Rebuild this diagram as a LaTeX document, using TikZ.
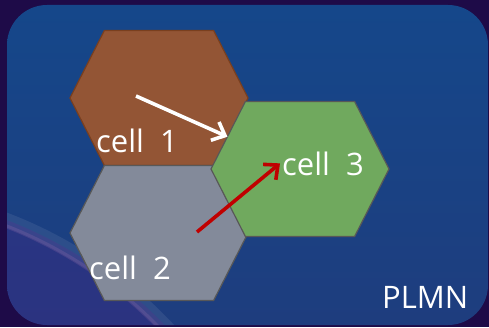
\documentclass[tikz,border=0pt]{standalone}
\usepackage{fontspec}
\setmainfont{Open Sans}
\usetikzlibrary{arrows.meta,positioning,shapes.symbols}

\definecolor{framepurple}{HTML}{1E0B48}
\definecolor{skyblue}{HTML}{15478A}
\definecolor{skydeep}{HTML}{1E3D7E}
\definecolor{cellbrown}{HTML}{935535}
\definecolor{cellbrownline}{HTML}{7A3F1E}
\definecolor{cellgray}{HTML}{838A9A}
\definecolor{cellgreen}{HTML}{70A95E}
\definecolor{cellline}{HTML}{585858}
\definecolor{handred}{HTML}{C00000}

\begin{document}
\begin{tikzpicture}[x=1pt,y=1pt,>={Straight Barb[length=11pt,width=20pt]},
                    line join=round]
  \tikzset{hexcell/.style={signal,signal to=east and west,signal pointer angle=126,
             minimum width=178pt,minimum height=135pt,inner sep=0pt,outer sep=0pt,
             draw=cellline,line width=1.2pt},
           cell label/.style={text=white,font=\fontsize{31}{36}\selectfont,inner sep=2pt},
           hand/.style={->,line width=3.6pt}}
  \useasboundingbox (0,0) rectangle (489,327);

  % backdrop
  \fill[framepurple] (0,0) rectangle (489,327);
  \path[rounded corners=40pt,top color=skyblue,bottom color=skydeep]
    (7,2) rectangle (488,322);
  \begin{scope}
    \clip[rounded corners=40pt] (7,2) rectangle (488,322);
    \fill[purple!60!blue,opacity=.16] (-150,-300) circle (436);
    \draw[white,opacity=.08,line width=14pt] (-150,-300) circle (436);
    \draw[magenta!40,opacity=.12,line width=4pt] (-150,-300) circle (430);
  \end{scope}

  % the three cells
  \node[hexcell,fill=cellbrown,draw=cellbrownline] (c1) at (159,229) {};
  \node[hexcell,fill=cellgray,below=0pt of c1]     (c2) {};
  \node[hexcell,fill=cellgreen]                    (c3) at (300,158) {};

  \node[cell label,anchor=base west] (t1) at (94,175) {cell~~1};
  \node[cell label,anchor=base west] (t2) at (87,48)  {cell~~2};
  \node[cell label,anchor=base west] (t3) at (280,152) {cell~~3};
  \node[cell label,anchor=base west] (plmn) at (380,19) {PLMN};

  % handovers
  \coordinate (w0) at (136,231);
  \coordinate (r0) at (197,95);
  \draw[hand,white]    (w0) -- (c3);
  \draw[hand,handred]  (r0) -- (t3.west);
\end{tikzpicture}
\end{document}
